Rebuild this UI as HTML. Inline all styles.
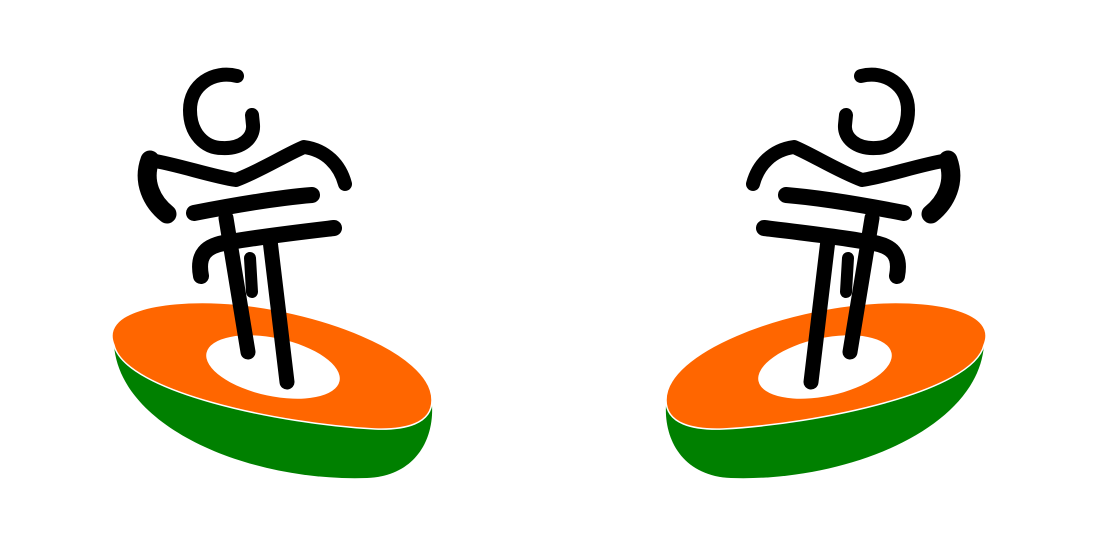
<!DOCTYPE html>
<html><head><meta charset="utf-8"><style>
html,body{margin:0;padding:0;background:#fff;width:1096px;height:548px;overflow:hidden}
</style></head><body>
<svg width="1096" height="548" viewBox="0 0 1096 548" xmlns="http://www.w3.org/2000/svg">
<defs>
<g id="logo">
  <path d="M114,345 C120,428 250,482 367,478 C415,476 434,440 432,405 Z" fill="#008000"/>
  <path d="M114,345 C100,312 160,300 220,303 C315,308 432,352 432,400 C432,424 405,430 375,429 C280,424 125,392 114,345 Z" fill="#ff6600" stroke="#fff" stroke-width="1.5"/>
  <ellipse cx="273" cy="367" rx="68" ry="29" transform="rotate(12 273 367)" fill="#fff"/>
  <g fill="none" stroke="#000" stroke-linecap="round" stroke-linejoin="round">
    <path d="M237,76 C213,70 190,85 190,110 C190,134 205,148 222,148 C242,149 254,138 253,125 L252,115" stroke-width="14"/>
    <path d="M150,160 C142,182 152,202 167,214" stroke-width="19"/>
    <path d="M150,160 C180,165 210,176 236,180 C262,170 285,155 304,147 C326,150 340,165 345,184" stroke-width="14"/>
    <path d="M194,213 C235,205 275,198 312,195" stroke-width="16"/>
    <path d="M201,276 C197,255 205,245 230,242 C265,236 300,232 334,228" stroke-width="16"/>
    <path d="M226,218 L248,352" stroke-width="15"/>
    <path d="M270,240 L287,382" stroke-width="15"/>
    <path d="M250,258 L252,292" stroke-width="12"/>
  </g>
</g>
</defs>
<use href="#logo"/>
<use href="#logo" transform="translate(1098,0) scale(-1,1)"/>
</svg>
</body></html>
